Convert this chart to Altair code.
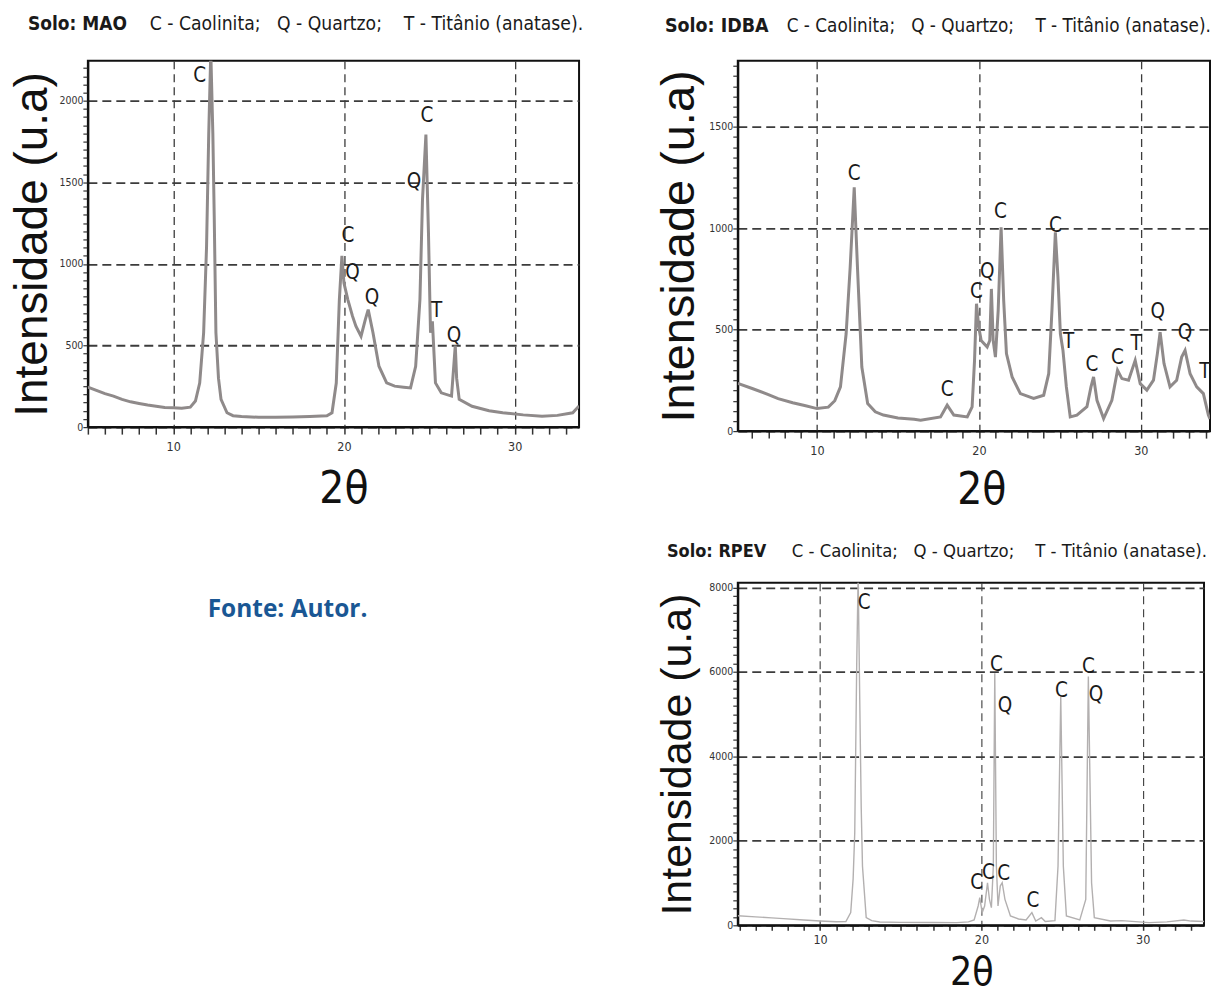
import altair as alt
import pandas as pd

NARROW = "Liberation Sans Narrow, Arial Narrow, DejaVu Sans Condensed, sans-serif"
SANS = "Liberation Sans, Arial, sans-serif"

legend_text = "C - Caolinita;\u00a0\u00a0\u00a0Q - Quartzo;\u00a0\u00a0\u00a0\u00a0T - Titânio (anatase)."
fonte_text = "Fonte: Autor."

# ---------------- Solo: MAO ----------------
mao_x = [5.0, 5.5, 6.0, 6.5, 7.0, 7.5, 8.0, 8.5, 9.0, 9.5, 10.0, 10.5, 11.0, 11.3, 11.55,
         11.78, 11.95, 12.08, 12.2, 12.32, 12.4, 12.5, 12.65, 12.8, 13.15, 13.5, 14.0, 15.0,
         16.0, 17.0, 18.0, 19.0, 19.3, 19.55, 19.73, 19.88, 20.0, 20.23, 20.5, 20.7, 21.0,
         21.25, 21.42, 21.7, 22.05, 22.5, 22.97, 23.5, 23.9, 24.2, 24.45, 24.6, 24.8, 24.95,
         25.07, 25.18, 25.36, 25.7, 26.3, 26.45, 26.52, 26.6, 26.75, 27.5, 28.5, 29.3, 30.5,
         31.6, 32.5, 33.4, 33.77]
mao_y = [245, 225, 205, 190, 170, 155, 145, 135, 128, 120, 118, 115, 122, 160, 270,
         578, 1100, 1800, 2300, 1800, 1300, 580, 300, 170, 88, 70, 65, 60,
         60, 62, 65, 70, 88, 270, 780, 1050, 883, 780, 680, 618, 557,
         659, 720, 578, 373, 271, 251, 245, 240, 373, 782, 1394, 1792, 1190,
         578, 649, 271, 210, 190, 400, 500, 300, 170, 128, 100, 88, 75,
         67, 72, 88, 130]
mao_lab = ["C", "C", "Q", "C", "Q", "Q", "T", "Q"]
mao_lab_x = [11.55, 24.86, 24.1, 20.23, 20.5, 21.64, 25.43, 26.44]
mao_lab_y = [2149, 1904, 1500, 1169, 945, 792, 710, 557]

# ---------------- Solo: IDBA ----------------
idba_x = [5.11, 6.0, 7.0, 7.6, 8.5, 9.3, 10.0, 10.7, 11.1, 11.45, 11.8, 12.05, 12.3, 12.5,
          12.77, 13.13, 13.6, 14.1, 15.0, 16.0, 16.4, 17.63, 18.04, 18.45, 19.28, 19.58,
          19.73, 19.85, 19.99, 20.14, 20.51, 20.67, 20.77, 20.88, 21.02, 21.19, 21.37, 21.53,
          21.7, 22.05, 22.56, 23.38, 24.0, 24.31, 24.51, 24.72, 24.88, 25.03, 25.19, 25.4,
          25.64, 26.05, 26.67, 26.92, 27.08, 27.29, 27.7, 28.21, 28.56, 28.83, 29.24, 29.65,
          29.96, 30.37, 30.78, 31.02, 31.19, 31.43, 31.8, 32.21, 32.52, 32.73, 33.04, 33.45,
          33.86, 34.17, 34.27]
idba_y = [235, 210, 180, 160, 140, 125, 111, 118, 150, 218, 480, 808, 1202, 808,
          316, 136, 95, 79, 65, 58, 54, 70, 128, 79, 70, 120,
          349, 628, 513, 447, 415, 447, 701, 447, 365, 595, 1005, 644,
          382, 267, 185, 161, 177, 283, 595, 980, 759, 480, 398, 218,
          70, 79, 120, 218, 267, 152, 62, 152, 300, 259, 251, 349,
          234, 202, 251, 382, 488, 333, 218, 251, 365, 398, 283, 218,
          185, 79, 60]
idba_lab = ["C", "C", "C", "Q", "C", "C", "T", "C", "C", "T", "Q", "Q", "T"]
idba_lab_x = [12.29, 18.04, 19.85, 20.51, 21.33, 24.72, 25.54, 26.98, 28.56, 29.71, 31.04, 32.73, 33.96]
idba_lab_y = [1267, 205, 685, 783, 1078, 1013, 439, 324, 362, 431, 587, 483, 292]

# ---------------- Solo: RPEV ----------------
rpev_x = [4.9, 6.0, 7.0, 7.73, 9.0, 10.0, 11.0, 11.6, 11.9, 12.05, 12.15, 12.27, 12.36,
          12.46, 12.55, 12.63, 12.86, 13.2, 13.7, 15.0, 17.0, 18.47, 19.2, 19.55, 19.8,
          19.9, 20.05, 20.2, 20.38, 20.5, 20.62, 20.74, 20.83, 20.93, 21.03, 21.17, 21.29,
          21.46, 21.8, 22.3, 22.77, 23.13, 23.37, 23.72, 23.96, 24.56, 24.75, 24.92, 25.08,
          25.27, 26.1, 26.47, 26.63, 26.83, 27.0, 28.0, 28.7, 30.4, 31.5, 32.55, 33.0, 33.8]
rpev_y = [225, 200, 175, 157, 125, 102, 85, 90, 300, 1100, 2190, 6126, 8300,
          5340, 2800, 1400, 181, 110, 79, 70, 65, 63, 80, 126, 457,
          654, 300, 457, 1008, 614, 417, 1400, 5970, 1400, 457, 929, 1008,
          614, 220, 150, 126, 300, 102, 181, 90, 110, 1400, 5417, 1400,
          220, 126, 614, 5890, 1008, 181, 102, 110, 63, 80, 126, 100, 90]
rpev_lab = ["C", "C", "Q", "C", "C", "Q", "C", "C", "C", "C"]
rpev_lab_x = [12.74, 20.93, 21.46, 24.96, 26.63, 27.11, 19.71, 20.43, 21.38, 23.2]
rpev_lab_y = [7622, 6165, 5181, 5559, 6126, 5457, 1008, 1244, 1205, 575]


def panel(name, xs, ys, labs, lxs, lys, xdom, ydom, xticks, ystep, ymajor,
          width, height, line_color, line_width, ytitle_size, ytitle_x,
          xtitle_x, xtitle_y, xtitle_size, xtick_size, xlabel_pad,
          title_pos, legend_x, bold_size, legend_size, xgrid_width):
    df = pd.DataFrame({"x": xs, "y": ys})
    ldf = pd.DataFrame({"x": lxs, "y": lys, "t": labs})
    xscale = alt.Scale(domain=xdom, nice=False, zero=False)
    yscale = alt.Scale(domain=ydom, nice=False, zero=False)
    yvals = list(range(0, int(ydom[1]) + 1, ystep))
    xaxis = alt.Axis(
        values=xticks,
        labelExpr="datum.value % 10 === 0 ? datum.label : ''",
        grid=True,
        gridDash=[8, 5],
        gridColor="#3c3c3c",
        gridWidth=xgrid_width,
        gridOpacity={"condition": {"test": "datum.value % 10 === 0", "value": 1}, "value": 0},
        tickSize=xtick_size,
        tickColor="#333333",
        tickWidth=1.5,
        domainColor="#111111",
        domainWidth=2,
        labelFont=NARROW,
        labelFontSize=12.5,
        labelColor="#333333",
        labelPadding=xlabel_pad,
        title="2θ",
        titleFont=NARROW,
        titleFontSize=xtitle_size,
        titleFontWeight="normal",
        titleColor="#111111",
        titleX=xtitle_x,
        titleY=xtitle_y,
        titleAlign="center",
        titleBaseline="alphabetic",
    )
    ytest = "datum.value %% %d === 0" % ymajor
    yaxis = alt.Axis(
        values=yvals,
        labelExpr=ytest + " ? datum.label : ''",
        format="d",
        grid=True,
        gridDash=[9, 5],
        gridColor="#3c3c3c",
        gridWidth=1.8,
        gridOpacity={"condition": {"test": ytest, "value": 1}, "value": 0},
        tickSize=5,
        tickColor="#333333",
        tickWidth=1.2,
        domainColor="#111111",
        domainWidth=2,
        labelFont=NARROW,
        labelFontSize=10.5,
        labelColor="#333333",
        labelPadding=0,
        title="Intensidade (u.a)",
        titleFont=SANS,
        titleFontSize=ytitle_size,
        titleFontWeight="normal",
        titleColor="#111111",
        titleAngle=270,
        titleX=ytitle_x,
        titleY=height / 2,
        titleAlign="center",
        titleBaseline="alphabetic",
    )
    line = alt.Chart(df).mark_line(color=line_color, strokeWidth=line_width, clip=True).encode(
        x=alt.X("x:Q", scale=xscale, axis=xaxis),
        y=alt.Y("y:Q", scale=yscale, axis=yaxis),
    )
    letters = alt.Chart(ldf).mark_text(font=NARROW, fontSize=20.5, color="#1a1a1a",
                                       align="center", baseline="middle").encode(
        x=alt.X("x:Q", scale=xscale, axis=xaxis),
        y=alt.Y("y:Q", scale=yscale, axis=yaxis),
        text="t:N",
    )
    tdf = pd.DataFrame({"t": ["Solo: " + name]})
    bold = alt.Chart(tdf).mark_text(font=NARROW, fontSize=bold_size, fontWeight="bold", color="#1a1a1a",
                                    align="left", baseline="alphabetic").encode(
        text="t:N", x=alt.value(title_pos[0]), y=alt.value(title_pos[1]))
    ldf2 = pd.DataFrame({"t": [legend_text]})
    leg = alt.Chart(ldf2).mark_text(font=NARROW, fontSize=legend_size, color="#1a1a1a",
                                    align="left", baseline="alphabetic").encode(
        text="t:N", x=alt.value(legend_x), y=alt.value(title_pos[1]))
    return alt.layer(line, letters, bold, leg).properties(width=width, height=height)


p1 = panel("MAO", mao_x, mao_y, mao_lab, mao_lab_x, mao_lab_y,
           [5, 33.77], [0, 2245], list(range(5, 34)), 50, 500,
           492, 367, "#8f8a8a", 3.0, 46, -41, 256, 76, 44, 7, 6,
           (-60, -31), 62, 19.0, 19.2, 1.3)
p2 = panel("IDBA", idba_x, idba_y, idba_lab, idba_lab_x, idba_lab_y,
           [5.11, 34.27], [0, 1826], list(range(6, 35)), 50, 500,
           473, 371, "#8f8a8a", 3.0, 47, -44, 244, 73, 44, 7, 6,
           (-73, -29), 49, 19.5, 18.8, 1.3)
p3 = panel("RPEV", rpev_x, rpev_y, rpev_lab, rpev_lab_x, rpev_lab_y,
           [4.9, 33.8], [0, 8109], list(range(5, 34)), 200, 2000,
           467, 343, "#b3b0b0", 1.4, 43, -47, 234, 59, 39, 5, 3,
           (-71, -26), 54, 18.0, 18.4, 1.1)

fonte = alt.Chart(pd.DataFrame({"t": [fonte_text]})).mark_text(
    font="Open Sans, Lato, sans-serif", fontSize=24.5, fontWeight="bold", color="#1a5794",
    align="left", baseline="alphabetic").encode(
    text="t:N", x=alt.value(120), y=alt.value(34)
).properties(width=496, height=343, view=alt.ViewBackground(strokeOpacity=0))

chart = alt.ConcatChart(
    concat=[p1, p2, fonte, p3],
    columns=2,
    spacing={"row": 152, "column": 155},
    bounds="flush",
    align="none",
).properties(
    padding={"left": 0, "top": 5, "right": 0, "bottom": 0},
    background="white",
).configure_view(
    stroke="#111111", strokeWidth=2
)

chart.save("out.html", embed_options={"renderer": "svg", "actions": False})
